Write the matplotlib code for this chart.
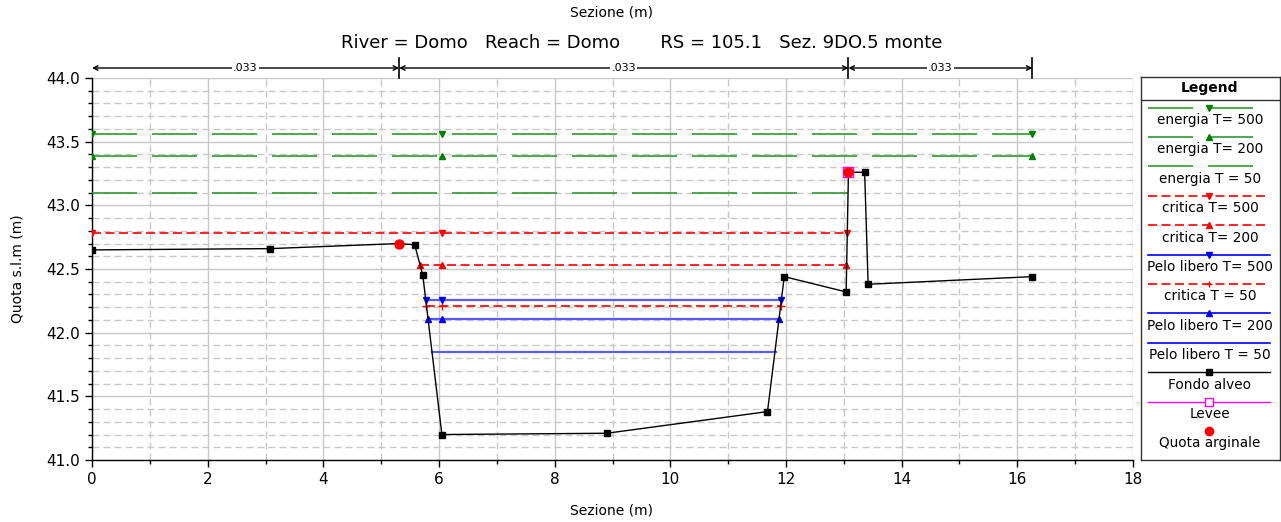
import numpy as np
import matplotlib
matplotlib.use('Agg')
import matplotlib.pyplot as plt
from matplotlib.ticker import MultipleLocator

"""
HEC-RAS style cross section: River Domo, RS 105.1
"""

# ground profile (Fondo alveo)
sta_ground = [0.0, 3.08, 5.31, 5.58, 5.72, 6.05, 8.90, 11.68, 11.97, 13.04, 13.08, 13.36, 13.42, 16.26]
elev_ground = [42.65, 42.66, 42.70, 42.69, 42.45, 41.20, 41.21, 41.38, 42.44, 42.32, 43.26, 43.26, 42.38, 42.44]

# bank stations (Quota arginale) and levee
sta_bank = [5.31, 13.08]
elev_bank = [42.70, 43.26]
sta_levee = [13.08]
elev_levee = [43.26]

# Manning n regions
n_edges = [0.0, 5.31, 13.08, 16.26]
n_values = ['.033', '.033', '.033']

# levels: (left station, right station, elevation, marker stations)
eg500 = (0.0, 16.26, 43.56, [0.0, 6.05, 16.26])
eg200 = (0.0, 16.26, 43.39, [0.0, 6.05, 16.26])
eg50 = (0.0, 13.08, 43.10, [])
crit500 = (0.0, 13.05, 42.78, [0.0, 6.05, 13.05])
crit200 = (5.67, 13.04, 42.53, [5.67, 6.05, 13.04])
crit50 = (5.78, 11.91, 42.21, [5.78, 6.05, 11.91])
ws500 = (5.77, 11.92, 42.26, [5.77, 6.05, 11.92])
ws200 = (5.81, 11.88, 42.11, [5.81, 6.05, 11.88])
ws50 = (5.88, 11.82, 41.85, [])

W, H = 1281, 522
GREEN = '#2f9a2f'
GREEN_M = '#008000'
PX = 0.72  # points per pixel at dpi 100


def fx(px):
    return px / W


def fy(py):
    return 1 - py / H


def style_for(kind, lw):
    if kind == 'energy':
        return dict(color=GREEN, lw=lw, dashes=(45 * PX / lw, 15 * PX / lw))
    if kind == 'crit':
        return dict(color='red', lw=lw, dashes=(9 * PX / lw, 4.5 * PX / lw))
    return dict(color='#5a5aff', lw=lw)


def draw_level(ax, level, kind, marker, mcolor, ms=5):
    x0, x1, y, mx = level
    lw = 1.6 if kind == 'ws' else 1.2
    ax.plot([x0, x1], [y, y], zorder=3, **style_for(kind, lw))
    if mx and marker:
        ax.plot(mx, [y] * len(mx), ls='none', marker=marker, color=mcolor,
                ms=ms, mew=1, zorder=4)


fig = plt.figure(figsize=(W / 100, H / 100), dpi=100)
ax = fig.add_axes([fx(92), fy(460), fx(1133 - 92), fy(78) - fy(460)])

ax.set_xlim(0, 18)
ax.set_ylim(41.0, 44.0)
ax.xaxis.set_major_locator(MultipleLocator(2))
ax.xaxis.set_minor_locator(MultipleLocator(1))
ax.yaxis.set_major_locator(MultipleLocator(0.5))
ax.yaxis.set_minor_locator(MultipleLocator(0.1))
ax.yaxis.set_major_formatter(matplotlib.ticker.FormatStrFormatter('%.1f'))
ax.grid(which='major', color='#c8c8c8', lw=1, ls='-', zorder=0)
ax.grid(which='minor', color='#c8c8c8', lw=1, dashes=(7 * PX, 4 * PX), zorder=0)
ax.set_axisbelow(True)
ax.tick_params(which='both', direction='out', labelsize=11, length=5, width=1)
ax.tick_params(which='minor', length=3)
for s in ['top', 'right']:
    ax.spines[s].set_visible(False)
for s in ['left', 'bottom']:
    ax.spines[s].set_color('black')
    ax.spines[s].set_linewidth(1)

# energy lines
draw_level(ax, eg500, 'energy', 'v', GREEN_M)
draw_level(ax, eg200, 'energy', '^', GREEN_M)
draw_level(ax, eg50, 'energy', None, GREEN_M)
# critical depth
draw_level(ax, crit500, 'crit', 'v', 'red')
draw_level(ax, crit200, 'crit', '^', 'red')
draw_level(ax, crit50, 'crit', '+', 'red', ms=6)
# water surfaces
draw_level(ax, ws500, 'ws', 'v', 'blue')
draw_level(ax, ws200, 'ws', '^', 'blue')
draw_level(ax, ws50, 'ws', None, 'blue')

# ground
ax.plot(sta_ground, elev_ground, color='black', lw=1, marker='s', ms=4, zorder=5)
ax.plot(sta_levee, elev_levee, ls='none', marker='s', ms=7, mfc='none',
        mec='magenta', mew=1, zorder=6)
ax.plot(sta_bank, elev_bank, ls='none', marker='o', ms=6.5, color='red', zorder=7)

# Manning n annotation above the plot
y_arrow = 44.0 + 10 / 127.3
for x in n_edges[1:]:
    ax.plot([x, x], [44.0, 44.0 + 20 / 127.3], color='black', lw=1.2, clip_on=False, zorder=8)
for i, nv in enumerate(n_values):
    a, b = n_edges[i], n_edges[i + 1]
    ax.annotate('', xy=(b, y_arrow), xytext=(a, y_arrow), annotation_clip=False,
                arrowprops=dict(arrowstyle='<->', color='black', lw=1,
                                shrinkA=0, shrinkB=0, mutation_scale=8))
    ax.text((a + b) / 2, y_arrow, nv, ha='center', va='center', fontsize=8,
            bbox=dict(facecolor='white', edgecolor='none', pad=1), clip_on=False, zorder=9)

# titles and labels
fig.text(fx(612), fy(12), 'Sezione (m)', ha='center', va='center', fontsize=10)
fig.text(fx(642), fy(43), 'River = Domo   Reach = Domo       RS = 105.1   Sez. 9DO.5 monte',
         ha='center', va='center', fontsize=13)
fig.text(fx(612), fy(510), 'Sezione (m)', ha='center', va='center', fontsize=10)
fig.text(fx(18), fy(269), 'Quota s.l.m (m)', ha='center', va='center', fontsize=10,
         rotation=90)

# legend panel drawn by hand
lax = fig.add_axes([fx(1141), fy(460), fx(1280 - 1141), fy(77) - fy(460)])
lax.set_xlim(1141, 1280)
lax.set_ylim(460, 77)
lax.set_xticks([])
lax.set_yticks([])
for s in lax.spines.values():
    s.set_color('#333333')
    s.set_linewidth(1)
lax.text(1210, 88, 'Legend', ha='center', va='center', fontsize=10, fontweight='bold')
lax.plot([1141, 1280], [100, 100], color='#333333', lw=1)

entries = [
    ('energia T= 500', 'energy', 'v', GREEN_M),
    ('energia T= 200', 'energy', '^', GREEN_M),
    ('energia T = 50', 'energy', None, GREEN_M),
    ('critica T= 500', 'crit', 'v', 'red'),
    ('critica T= 200', 'crit', '^', 'red'),
    ('Pelo libero T= 500', 'ws', 'v', 'blue'),
    ('critica T = 50', 'crit', '+', 'red'),
    ('Pelo libero T= 200', 'ws', '^', 'blue'),
    ('Pelo libero T = 50', 'ws', None, 'blue'),
    ('Fondo alveo', 'ground', 's', 'black'),
    ('Levee', 'levee', 's', 'magenta'),
    ('Quota arginale', 'bank', 'o', 'red'),
]
for i, (label, kind, marker, mc) in enumerate(entries):
    yl = 107.5 + i * 29.4
    if kind == 'energy':
        lax.plot([1148, 1257], [yl, yl], **style_for('energy', 1.2))
    elif kind == 'crit':
        lax.plot([1148, 1266], [yl, yl], **style_for('crit', 1.2))
    elif kind == 'ws':
        lax.plot([1148, 1270], [yl, yl], color='blue', lw=1.2)
    elif kind == 'ground':
        lax.plot([1148, 1270], [yl, yl], color='black', lw=1)
    elif kind == 'levee':
        lax.plot([1148, 1270], [yl, yl], color='magenta', lw=1)
    if marker:
        if kind == 'levee':
            lax.plot([1209], [yl], marker='s', ms=6, mfc='white', mec='magenta', mew=1)
        elif kind == 'bank':
            lax.plot([1209], [yl], marker='o', ms=6, color='red')
        else:
            lax.plot([1209], [yl], marker=marker, ms=4.5, color=mc, mew=1)
    lax.text(1210, yl + 12.5, label, ha='center', va='center', fontsize=9.8)

fig.savefig('out.png', dpi=100)
plt.close(fig)
